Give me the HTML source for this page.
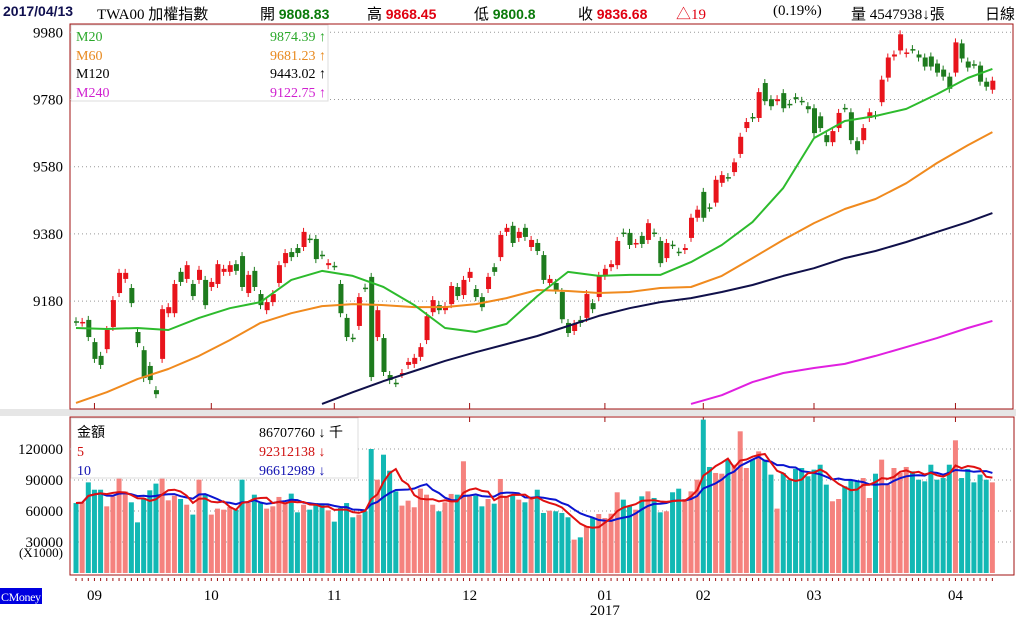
<!DOCTYPE html>
<html><head><meta charset="utf-8">
<style>
body{margin:0;background:#fff;width:1016px;height:619px;overflow:hidden;font-family:"Liberation Serif","Noto Sans CJK TC",serif;}
#hdr{position:absolute;left:0;top:0;width:1016px;height:22px;font-size:15px;}
#hdr span{position:absolute;top:3px;white-space:nowrap;}
.b{font-weight:bold;font-family:"Liberation Sans","Noto Sans CJK TC",sans-serif;font-size:14px;}
.g{color:#0a7a0a}.r{color:#e00010}
svg{position:absolute;left:0;top:0;}
</style></head><body>
<div id="hdr">
<span class="b" style="left:3px;color:#101050">2017/04/13</span>
<span style="left:97px">TWA00 加權指數</span>
<span style="left:260px">開 <b class="b g">9808.83</b></span>
<span style="left:367px">高 <b class="b r">9868.45</b></span>
<span style="left:474px">低 <b class="b g">9800.8</b></span>
<span style="left:578px">收 <b class="b r">9836.68</b></span>
<span class="r" style="left:676px">△19</span>
<span style="left:773px">(0.19%)</span>
<span style="left:851px">量 4547938↓張</span>
<span style="left:985px">日線</span>
</div>
<svg id="c" width="1016" height="619"></svg>
<script>
const opens=[9120,9116,9124,9058,9017,9037,9103,9204,9246,9219,9088,9034,8987,8915,9008,9144,9144,9267,9246,9231,9243,9243,9222,9231,9267,9267,9290,9314,9204,9270,9201,9153,9177,9234,9293,9326,9338,9341,9366,9365,9318,9287,9285,9231,9130,9071,9106,9220,9252,9073,9070,8960,8937,8963,8990,8993,9014,9064,9147,9168,9153,9171,9222,9198,9249,9216,9192,9216,9281,9311,9386,9404,9368,9398,9341,9353,9317,9234,9234,9207,9115,9091,9124,9130,9174,9192,9255,9281,9287,9384,9383,9350,9374,9362,9384,9359,9308,9348,9327,9332,9368,9428,9505,9459,9473,9532,9549,9564,9618,9695,9728,9725,9829,9781,9775,9799,9767,9787,9776,9760,9754,9730,9674,9653,9695,9755,9742,9656,9659,9725,9734,9772,9845,9908,9926,9917,9930,9914,9905,9908,9887,9869,9848,9860,9947,9893,9885,9881,9833,9809];
const closes=[9118,9118,9073,9008,8990,9094,9183,9264,9264,9174,9055,8951,8945,8903,9156,9162,9231,9237,9287,9195,9273,9168,9237,9290,9276,9287,9270,9222,9258,9222,9168,9177,9201,9287,9323,9311,9323,9386,9365,9305,9317,9293,9284,9144,9073,9070,9192,9219,8954,9153,8969,8945,8936,8966,8999,9011,9043,9135,9183,9153,9165,9225,9195,9243,9267,9192,9162,9252,9267,9377,9398,9353,9386,9371,9362,9329,9243,9246,9213,9126,9085,9112,9115,9201,9156,9255,9276,9290,9359,9383,9347,9353,9350,9412,9383,9293,9353,9347,9326,9338,9428,9452,9428,9458,9541,9555,9548,9593,9669,9713,9725,9802,9775,9760,9781,9754,9766,9781,9775,9751,9680,9695,9653,9686,9740,9754,9659,9629,9695,9742,9733,9839,9905,9914,9974,9920,9929,9905,9878,9878,9860,9848,9812,9950,9902,9875,9884,9833,9818,9836];
const volumes=[67700,68400,87700,80600,80600,64500,74200,91300,79000,68400,49000,72600,80000,86500,91300,70300,74800,71600,66100,56500,90300,75800,56500,62300,61300,63900,61300,90300,67700,75800,67700,62300,64500,73600,68400,76800,58700,66100,61300,67700,66100,60600,49700,62900,67700,53900,56500,59700,120000,90300,114500,99000,79000,65200,70000,63600,81600,75800,66100,59700,68400,76500,75800,108100,74200,74800,64500,71600,67100,91000,74200,74800,71000,68400,71600,80600,58100,60300,59700,58100,53900,32300,34500,45200,53200,57100,53200,57400,78100,71000,65200,61300,74200,79000,72600,58700,59700,78100,81600,71600,79000,90300,148400,102600,96800,96100,109700,104800,137100,101600,109700,117700,109700,95200,62300,96800,90300,100700,101600,93600,100000,104800,85500,69400,71600,83900,90300,88700,91900,72600,96100,109700,85500,101600,96800,102600,98400,90300,88700,104800,90300,91900,104800,128400,91900,100700,87700,95200,90300,87700];
const maIndex=[0,5,10,15,20,25,30,35,40,45,50,55,60,65,70,75,80,85,90,95,100,105,110,115,120,125,130,135,140,145,149];
const ma20=[9100,9097,9100,9094,9130,9159,9177,9243,9270,9255,9222,9168,9100,9088,9112,9195,9267,9255,9258,9258,9296,9347,9415,9517,9665,9716,9731,9752,9796,9844,9871];
const ma60=[8877,8909,8948,8978,9017,9064,9115,9144,9165,9171,9168,9162,9162,9171,9189,9213,9210,9204,9207,9219,9222,9255,9308,9362,9412,9454,9484,9531,9591,9644,9683];
const ma120=[null,null,null,null,null,null,null,null,8874,8909,8942,8972,9002,9028,9052,9076,9106,9136,9159,9177,9189,9207,9228,9255,9278,9308,9329,9356,9386,9415,9442];
const ma240=[null,null,null,null,null,null,null,null,null,null,null,null,null,null,null,null,null,null,null,null,8874,8900,8939,8966,8981,8993,9017,9043,9070,9100,9121];
const priceTicks=[9980,9780,9580,9380,9180];
const volTicks=[120000,90000,60000,30000];
const monthLabels=["09","10","11","12","01","02","03","04"];
const monthIndex=[3,22,42,64,86,102,120,143];

const NS="http://www.w3.org/2000/svg";
const svg=document.getElementById('c');
function mk(tag,attrs,parent){const e=document.createElementNS(NS,tag);for(const k in attrs)e.setAttribute(k,attrs[k]);(parent||svg).appendChild(e);return e;}
const X=i=>76+i*6.15;
const PY=p=>32.3+(9980-p)*0.336;
const VY=v=>573-v/967.7;
const RED="#e8141c",GRN="#1e7b1e",TEAL="#12b8b4",SAL="#f5827e",FR="#a01010";

let e;
e=mk('rect',{x:0,y:409,width:1016,height:7,fill:"#e6e6e6"});


e=mk('rect',{x:70,y:24,width:943,height:385,fill:"#fff",stroke:FR,"stroke-width":1});


e=mk('rect',{x:70,y:417,width:944,height:158,fill:"#fff",stroke:FR,"stroke-width":1});



priceTicks.forEach(p=>{
  e=mk('line',{x1:70,x2:1013,y1:PY(p),y2:PY(p),stroke:"#999","stroke-dasharray":"1,3"});
  
  
  e=mk('text',{x:63,y:PY(p)+5,"text-anchor":"end","font-size":15,fill:"#000"});e.textContent=p;
  
  
});
volTicks.forEach(v=>{
  e=mk('line',{x1:70,x2:1014,y1:VY(v),y2:VY(v),stroke:"#999","stroke-dasharray":"1,3"});
  
  
  e=mk('text',{x:63,y:VY(v)+5,"text-anchor":"end","font-size":15,fill:"#000"});e.textContent=v;
  
  
});
e=mk('text',{x:63,y:557,"text-anchor":"end","font-size":13,fill:"#000"});e.textContent="(X1000)";



monthIndex.forEach((mi,k)=>{
  e=mk('line',{x1:X(mi),x2:X(mi),y1:403,y2:409,stroke:FR});
  
  
  e=mk('line',{x1:X(mi),x2:X(mi),y1:417,y2:422,stroke:FR});
  
  
  e=mk('text',{x:X(mi),y:600,"text-anchor":"middle","font-size":15,fill:"#000"});e.textContent=monthLabels[k];
  
  
});
e=mk('text',{x:X(86),y:615,"text-anchor":"middle","font-size":15,fill:"#000"});e.textContent="2017";


for(let i=0;i<closes.length;i++){
  e=mk('line',{x1:X(i),x2:X(i),y1:578,y2:581,stroke:FR});
  
  
}

const gC=mk('g',{});


for(let i=0;i<closes.length;i++){
  const o=opens[i],c=closes[i];
  const up=c>o||(c===o&&i>0&&c>=closes[i-1]);
  const col=up?RED:GRN;
  const t=PY(Math.max(o,c)),b=PY(Math.min(o,c));
  e=mk('line',{x1:X(i),x2:X(i),y1:t-4,y2:b+4,stroke:col,"stroke-width":1},gC);
  
  
  e=mk('rect',{x:X(i)-2,y:t,width:5,height:Math.max(1.5,b-t),fill:col},gC);
  
  
}

const clip=mk('clipPath',{id:'pc'});mk('rect',{x:70,y:24,width:943,height:385},clip);
function maLine(arr,col,name){
  const pts=[];arr.forEach((v,k)=>{if(v!==null)pts.push(X(maIndex[k]).toFixed(1)+","+PY(v).toFixed(1));});
  const l=mk('polyline',{points:pts.join(" "),fill:"none",stroke:col,"stroke-width":2,"clip-path":"url(#pc)","stroke-linejoin":"round"});
  
  
}
maLine(ma240,"#e020e0","ma240-line");
maLine(ma120,"#10104a","ma120-line");
maLine(ma60,"#f08a1e","ma60-line");
maLine(ma20,"#2dbb2d","ma20-line");

const gV=mk('g',{});


for(let i=0;i<volumes.length;i++){
  const o=opens[i],c=closes[i];
  const up=c>o||(c===o&&i>0&&c>=closes[i-1]);
  e=mk('rect',{x:X(i)-2.5,y:VY(volumes[i]),width:5,height:573-VY(volumes[i]),fill:up?SAL:TEAL},gV);
  
  
}
function volMA(n,col,name){
  const pts=[];
  for(let i=0;i<volumes.length;i++){let s=0,k=0;for(let j=Math.max(0,i-n+1);j<=i;j++){s+=volumes[j];k++;}pts.push(X(i).toFixed(1)+","+VY(s/k).toFixed(1));}
  const l=mk('polyline',{points:pts.join(" "),fill:"none",stroke:col,"stroke-width":2});
  
  
}
volMA(10,"#0a14d0","volume-ma10-line");
volMA(5,"#e01010","volume-ma5-line");

e=mk('rect',{x:71,y:25,width:257,height:76,fill:"#fff",stroke:"#ddd"});


[["M20","9874.39 ↑","#2aa82a",41],["M60","9681.23 ↑","#e8891e",60],["M120","9443.02 ↑","#000",78],["M240","9122.75 ↑","#d020d0",97]].forEach(r=>{
  e=mk('text',{x:76,y:r[3],"font-size":14,fill:r[2]});e.textContent=r[0];
  
  
  e=mk('text',{x:326,y:r[3],"font-size":14,fill:r[2],"text-anchor":"end"});e.textContent=r[1];
  
  
});
e=mk('rect',{x:71,y:418,width:287,height:60,fill:"#fff",stroke:"#ddd"});


[["金額","86707760 ↓ 千","#000",437],["5","92312138 ↓","#d01010",456],["10","96612989 ↓","#1010b0",475]].forEach((r,k)=>{
  e=mk('text',{x:77,y:r[3],"font-size":14,fill:r[2]});e.textContent=r[0];
  
  
  e=mk('text',{x:259,y:r[3],"font-size":14,fill:r[2]});e.textContent=r[1];
  
  
});
e=mk('rect',{x:0,y:588,width:42,height:16,fill:"#0000e0"});


e=mk('text',{x:1,y:601,"font-size":12,fill:"#fff",textLength:40});e.textContent="CMoney";


</script>
</body></html>
